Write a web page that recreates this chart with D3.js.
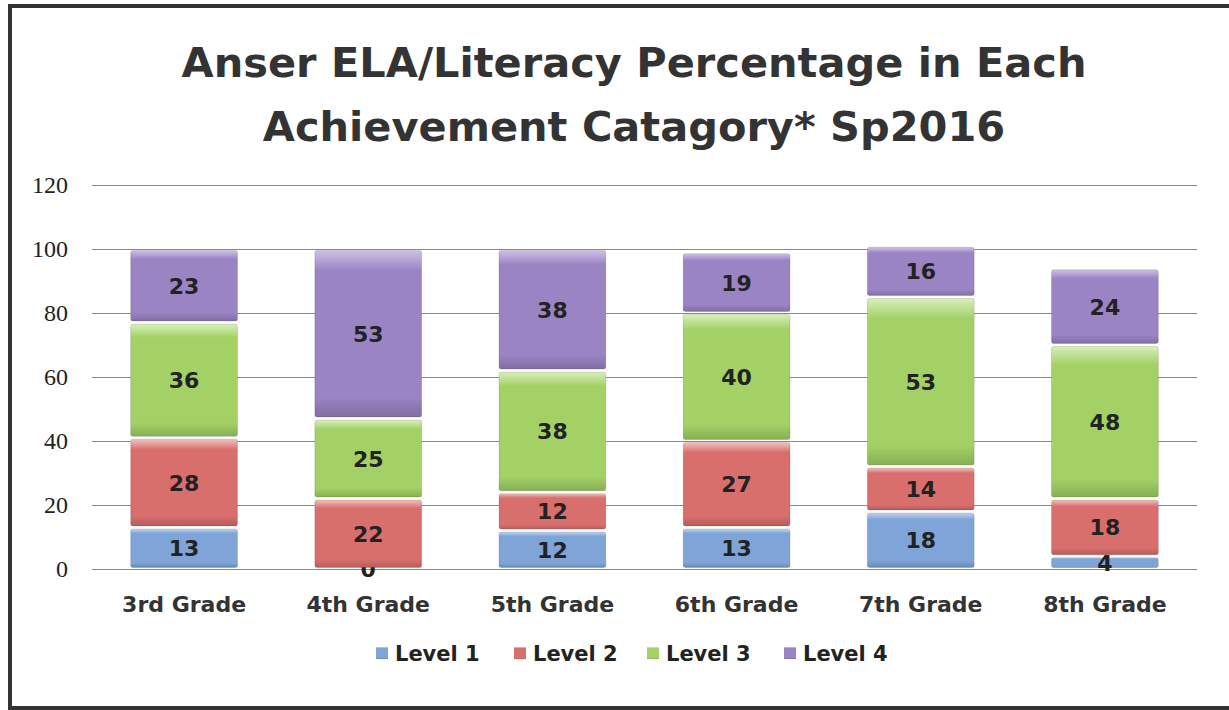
<!DOCTYPE html>
<html>
<head>
<meta charset="utf-8">
<script src="https://cdn.jsdelivr.net/npm/d3@7"></script>
<style>
  body { margin: 0; background: #fff; }
  svg { display: block; }
</style>
</head>
<body>
<svg id="chart"></svg>
<script>
// data
const grades = ["3rd Grade", "4th Grade", "5th Grade", "6th Grade", "7th Grade", "8th Grade"];
const levels = ["Level 1", "Level 2", "Level 3", "Level 4"];
const level1 = [13, 0, 12, 13, 18, 4];
const level2 = [28, 22, 12, 27, 14, 18];
const level3 = [36, 25, 38, 40, 53, 48];
const level4 = [23, 53, 38, 19, 16, 24];
const yTicks = [0, 20, 40, 60, 80, 100, 120];
const titleLines = ["Anser ELA/Literacy Percentage in Each", "Achievement Catagory* Sp2016"];

const W = 1229, H = 710;
const sans = "'DejaVu Sans', Verdana, sans-serif";
const colors = ["#7ea4d8", "#d96f6d", "#a3d166", "#9a84c4"];
const colorsLight = ["#c2d5ef", "#f0c1bf", "#d8efbb", "#cdc1e6"];

const svg = d3.select("#chart").attr("width", W).attr("height", H);

// frame
svg.append("rect")
    .attr("x", 10).attr("y", 6)
    .attr("width", W + 20).attr("height", H - 8)
    .attr("fill", "none")
    .attr("stroke", "#333")
    .attr("stroke-width", 4);

// title
svg.append("g").selectAll("text")
    .data(titleLines)
    .enter()
    .append("text")
    .attr("x", 634)
    .attr("y", (d, i) => 77 + i * 64)
    .attr("text-anchor", "middle")
    .style("font-family", sans)
    .attr("font-weight", "bold")
    .attr("font-size", "41.5px")
    .attr("fill", "#333")
    .text(d => d);

const x = d3.scaleBand().domain(grades).range([92, 1197]).paddingInner(0.42).paddingOuter(0.21);
const y = d3.scaleLinear().domain([0, 120]).range([569, 185]);

// gradients, one per level
const defs = svg.append("defs");
levels.forEach((l, i) => {
    const g = defs.append("linearGradient")
        .attr("id", "grad" + i)
        .attr("x1", 0).attr("y1", 0).attr("x2", 0).attr("y2", 1);
    g.append("stop").attr("offset", "0%").attr("stop-color", colorsLight[i]);
    g.append("stop").attr("offset", "12%").attr("stop-color", colors[i]);
    g.append("stop").attr("offset", "88%").attr("stop-color", colors[i]);
    g.append("stop").attr("offset", "100%").attr("stop-color", d3.color(colors[i]).darker(0.5));
});

// gridlines + y axis
const yAxis = svg.append("g")
    .attr("transform", "translate(92,0)")
    .call(d3.axisLeft(y).tickValues(yTicks).tickSize(-1105).tickPadding(24));
yAxis.select(".domain").remove();
yAxis.selectAll(".tick line").attr("stroke", "#8a8a8a").attr("stroke-width", 1.2);
yAxis.selectAll(".tick text")
    .style("font-family", "'Liberation Serif', 'DejaVu Serif', serif")
    .attr("font-size", "24px")
    .attr("fill", "#222");

// x axis labels
const xAxis = svg.append("g")
    .attr("transform", "translate(0,569)")
    .call(d3.axisBottom(x).tickSize(0).tickPadding(27));
xAxis.select(".domain").remove();
xAxis.selectAll(".tick text")
    .style("font-family", sans)
    .attr("font-weight", "bold")
    .attr("font-size", "22px")
    .attr("fill", "#333");

// stacked data
const rows = grades.map((g, i) => ({
    grade: g, l0: level1[i], l1: level2[i], l2: level3[i], l3: level4[i]
}));
const stack = d3.stack().keys(["l0", "l1", "l2", "l3"])(rows);

const layers = svg.append("g").selectAll("g")
    .data(stack)
    .enter()
    .append("g")
    .attr("fill", (d, i) => "url(#grad" + i + ")");

layers.selectAll("rect")
    .data(d => d)
    .enter()
    .append("rect")
    .attr("x", d => x(d.data.grade))
    .attr("width", x.bandwidth())
    .attr("y", d => y(d[1]) + 1.5)
    .attr("height", d => Math.max(0, y(d[0]) - y(d[1]) - 3))
    .attr("rx", 2)
    .attr("stroke", "rgba(0,0,0,0.12)")
    .attr("stroke-width", 1);

// value labels
layers.selectAll("text")
    .data(d => d)
    .enter()
    .append("text")
    .attr("x", d => x(d.data.grade) + x.bandwidth() / 2)
    .attr("y", d => (y(d[0]) + y(d[1])) / 2)
    .attr("dy", "0.36em")
    .attr("text-anchor", "middle")
    .style("font-family", sans)
    .attr("font-weight", "bold")
    .attr("font-size", "22px")
    .attr("fill", "#222")
    .text(d => d[1] - d[0]);

// legend
const legendX = [376, 514, 647, 784];
const legend = svg.append("g").selectAll("g")
    .data(levels)
    .enter()
    .append("g")
    .attr("transform", (d, i) => "translate(" + legendX[i] + ",653)");
legend.append("rect")
    .attr("x", 0).attr("y", -6)
    .attr("width", 12).attr("height", 12)
    .attr("fill", (d, i) => "url(#grad" + i + ")");
legend.append("text")
    .attr("x", 19)
    .attr("dy", "0.36em")
    .style("font-family", sans)
    .attr("font-weight", "bold")
    .attr("font-size", "21px")
    .attr("fill", "#222")
    .text(d => d);
</script>
</body>
</html>
